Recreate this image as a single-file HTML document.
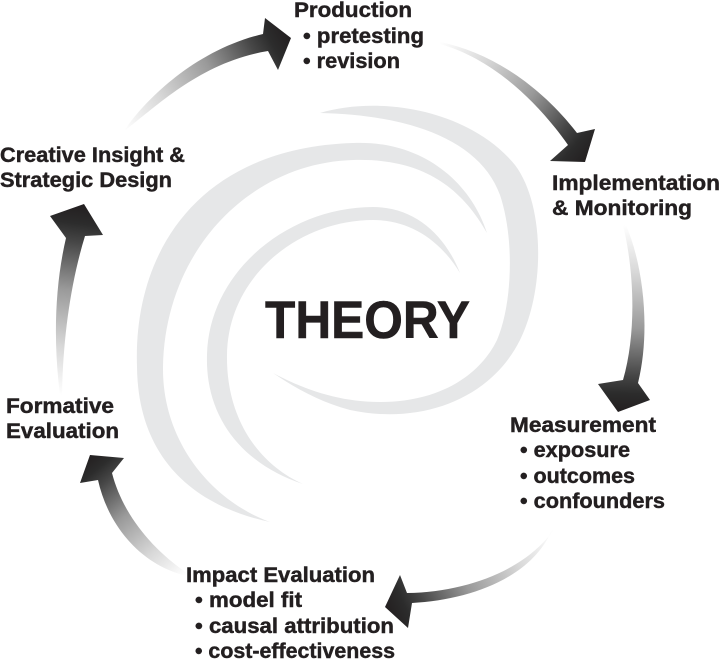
<!DOCTYPE html>
<html>
<head>
<meta charset="utf-8">
<style>
html,body{margin:0;padding:0;background:#fff;width:720px;height:661px;overflow:hidden}
svg{display:block}
text{font-family:"Liberation Sans",Arial,sans-serif;font-weight:bold;fill:#231f20}
.lbl{font-size:21px;stroke:#231f20;stroke-width:0.45px}
</style>
</head>
<body>
<svg width="720" height="661" viewBox="0 0 720 661" xmlns="http://www.w3.org/2000/svg">
<defs>
  <linearGradient id="g1" gradientUnits="userSpaceOnUse" x1="124" y1="131" x2="291" y2="38">
    <stop offset="0" stop-color="#ffffff"/><stop offset="0.25" stop-color="#d8d8d8"/><stop offset="0.55" stop-color="#9a9a9a"/><stop offset="0.8" stop-color="#474747"/><stop offset="0.9" stop-color="#2c2c2c"/><stop offset="1" stop-color="#231f20"/>
  </linearGradient>
  <linearGradient id="g2" gradientUnits="userSpaceOnUse" x1="440" y1="42" x2="585" y2="162">
    <stop offset="0" stop-color="#ffffff"/><stop offset="0.25" stop-color="#d8d8d8"/><stop offset="0.55" stop-color="#9a9a9a"/><stop offset="0.8" stop-color="#474747"/><stop offset="0.9" stop-color="#2c2c2c"/><stop offset="1" stop-color="#231f20"/>
  </linearGradient>
  <linearGradient id="g3" gradientUnits="userSpaceOnUse" x1="623" y1="225" x2="618" y2="412">
    <stop offset="0" stop-color="#ffffff"/><stop offset="0.25" stop-color="#d8d8d8"/><stop offset="0.55" stop-color="#9a9a9a"/><stop offset="0.8" stop-color="#474747"/><stop offset="0.9" stop-color="#2c2c2c"/><stop offset="1" stop-color="#231f20"/>
  </linearGradient>
  <linearGradient id="g4" gradientUnits="userSpaceOnUse" x1="553" y1="529" x2="385" y2="607">
    <stop offset="0" stop-color="#ffffff"/><stop offset="0.25" stop-color="#d8d8d8"/><stop offset="0.55" stop-color="#9a9a9a"/><stop offset="0.8" stop-color="#474747"/><stop offset="0.9" stop-color="#2c2c2c"/><stop offset="1" stop-color="#231f20"/>
  </linearGradient>
  <linearGradient id="g5" gradientUnits="userSpaceOnUse" x1="187" y1="574" x2="90" y2="455">
    <stop offset="0" stop-color="#ffffff"/><stop offset="0.25" stop-color="#d8d8d8"/><stop offset="0.55" stop-color="#9a9a9a"/><stop offset="0.8" stop-color="#474747"/><stop offset="0.9" stop-color="#2c2c2c"/><stop offset="1" stop-color="#231f20"/>
  </linearGradient>
  <linearGradient id="g6" gradientUnits="userSpaceOnUse" x1="60" y1="395" x2="84" y2="205">
    <stop offset="0" stop-color="#ffffff"/><stop offset="0.25" stop-color="#d8d8d8"/><stop offset="0.55" stop-color="#9a9a9a"/><stop offset="0.8" stop-color="#474747"/><stop offset="0.9" stop-color="#2c2c2c"/><stop offset="1" stop-color="#231f20"/>
  </linearGradient>
</defs>

<!-- swirl bands -->
<g fill="#e6e7e8">
  <path d="M270,522 C190,505 138,455 137,367 C133,250 200,148 353,143 C420,140 470,180 487,233 C460,185 420,158 353,160 C250,163 165,250 163,367 C162,440 210,500 270,522 Z"/>
  <path d="M303,484 C245,465 205,420 207,355 C209,270 290,207 373,207 C415,207 445,235 460,273 C440,240 410,220 373,220 C300,220 228,275 227,355 C226,420 260,465 303,484 Z"/>
  <path d="M320,113 C380,95 470,110 515,165 C545,205 545,290 520,340 C490,400 420,425 350,410 C320,402 295,388 273,373 C305,390 340,402 380,402 C440,402 480,375 497,340 C512,305 515,240 500,195 C480,140 410,115 320,113 Z"/>
</g>

<!-- arrows -->
<path fill="url(#g1)" d="M124,131 C145,100 195,50 263,34 L265,18 L291,38 L278,70 L268,51 C200,62 155,108 124,131 Z"/>
<path fill="url(#g2)" d="M440,42 C490,52 540,85 577,133 L595,129 L585,162 L550,161 L568,145 C535,98 490,58 440,44 Z"/>
<path fill="url(#g3)" d="M623,225 C635,275 636,335 623,380 L598,384 L618,412 L650,400 L638,383 C650,335 645,270 626,225 Z"/>
<path fill="url(#g4)" d="M555,528 C528,568 470,592 407,593 L400,575 L385,607 L408,628 L412,603 C470,600 530,578 551,532 Z"/>
<path fill="url(#g5)" d="M187,573 C150,548 122,512 112,473 L124,458 L90,455 L80,483 L98,480 C108,525 140,565 187,576 Z"/>
<path fill="url(#g6)" d="M60,395 C53,340 55,285 66,238 L50,216 L84,204 L103,235 L85,236 C70,285 63,340 62,395 Z"/>

<!-- labels -->
<text class="lbl" x="294" y="17" textLength="118" lengthAdjust="spacingAndGlyphs">Production</text>
<text class="lbl" x="303" y="43" textLength="121" lengthAdjust="spacingAndGlyphs">• pretesting</text>
<text class="lbl" x="303" y="68" textLength="97" lengthAdjust="spacingAndGlyphs">• revision</text>

<text class="lbl" x="0" y="162" textLength="185" lengthAdjust="spacingAndGlyphs">Creative Insight &amp;</text>
<text class="lbl" x="0" y="187" textLength="172" lengthAdjust="spacingAndGlyphs">Strategic Design</text>

<text class="lbl" x="552" y="190" textLength="168" lengthAdjust="spacingAndGlyphs">Implementation</text>
<text class="lbl" x="552" y="215" textLength="140" lengthAdjust="spacingAndGlyphs">&amp; Monitoring</text>

<text x="265" y="338" font-size="53" stroke="#231f20" stroke-width="0.6" textLength="205" lengthAdjust="spacingAndGlyphs">THEORY</text>

<text class="lbl" x="6" y="413" textLength="108" lengthAdjust="spacingAndGlyphs">Formative</text>
<text class="lbl" x="6" y="438" textLength="113" lengthAdjust="spacingAndGlyphs">Evaluation</text>

<text class="lbl" x="510" y="432" textLength="146" lengthAdjust="spacingAndGlyphs">Measurement</text>
<text class="lbl" x="520" y="457" textLength="110" lengthAdjust="spacingAndGlyphs">• exposure</text>
<text class="lbl" x="520" y="483" textLength="115" lengthAdjust="spacingAndGlyphs">• outcomes</text>
<text class="lbl" x="520" y="508" textLength="145" lengthAdjust="spacingAndGlyphs">• confounders</text>

<text class="lbl" x="186" y="582" textLength="189" lengthAdjust="spacingAndGlyphs">Impact Evaluation</text>
<text class="lbl" x="195" y="607" textLength="107" lengthAdjust="spacingAndGlyphs">• model fit</text>
<text class="lbl" x="195" y="633" textLength="199" lengthAdjust="spacingAndGlyphs">• causal attribution</text>
<text class="lbl" x="195" y="658" textLength="200" lengthAdjust="spacingAndGlyphs">• cost-effectiveness</text>
</svg>
</body>
</html>
